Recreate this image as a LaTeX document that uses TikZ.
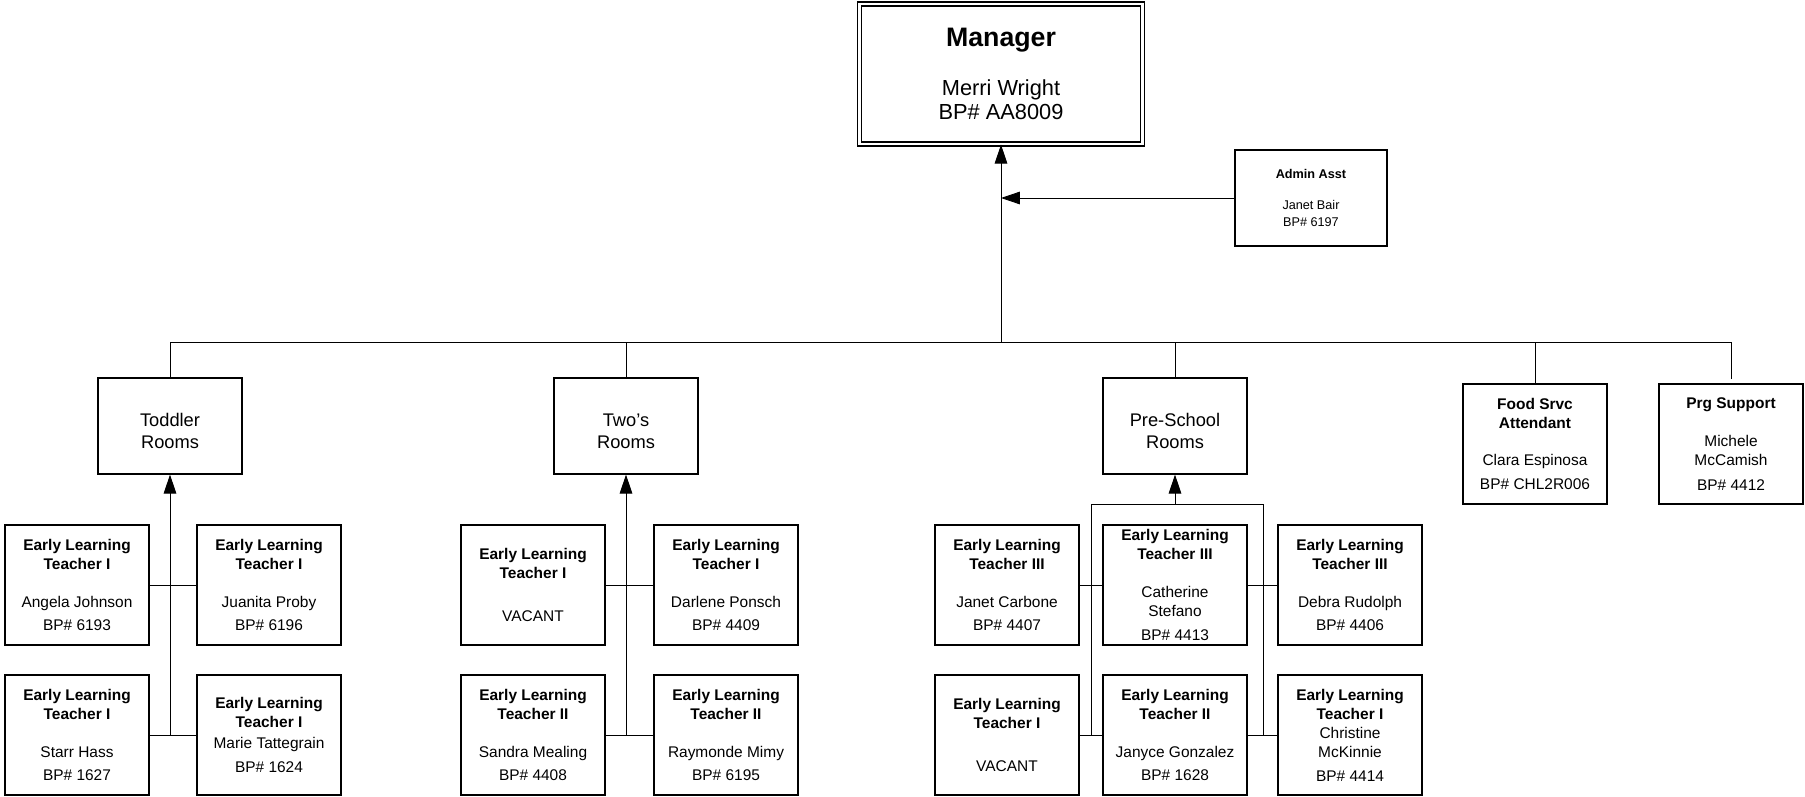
\documentclass[tikz,border=0pt]{standalone}
\usepackage{fontspec}
\setmainfont{Liberation Sans}
\usetikzlibrary{arrows.meta}
\tikzset{
  post/.style={draw,line width=.9pt,align=center,inner sep=0pt,
    minimum width=3.6cm,minimum height=3cm,font=\fontsize{11}{13.5}\selectfont},
  rooms/.style={post,minimum height=2.4cm,font=\fontsize{13}{15.5}\selectfont},
  link/.style={line width=.6pt},
  up/.style={link,-{Triangle[length=13.5pt,width=9pt]}}
}
\newcommand{\elt}[3]{\textbf{Early Learning}\\\textbf{Teacher #1}\\[#2]#3}
\begin{document}
\begin{tikzpicture}[x=.25mm,y=-.25mm]
\useasboundingbox (0,0) rectangle (1805,797);
% manager and admin
\node[post,double,double distance=2pt,minimum width=7.09cm,minimum height=3.5cm,
  font=\fontsize{15.5}{17.5}\selectfont] (mgr) at (1001,74)
  {{\fontsize{19}{22}\selectfont\bfseries Manager}\\[17.5pt]Merri Wright\\BP\# AA8009};
\node[post,minimum width=3.8cm,minimum height=2.4cm,font=\fontsize{9}{11.5}\selectfont]
  (admin) at (1311,198) {\textbf{Admin Asst}\\[10.5pt]Janet Bair\\BP\# 6197};
\coordinate (bar) at (1001,342);
\draw[up] (bar) -- (mgr);
\draw[up] (admin) -- (admin -| mgr);
% second level
\node[rooms] (tod) at (170,426) {\rule{0pt}{16pt}Toddler\\Rooms};
\node[rooms] (two) at (626,426) {\rule{0pt}{16pt}Two’s\\Rooms};
\node[rooms] (pre) at (1175,426) {\rule{0pt}{16pt}Pre-School\\Rooms};
\node[post] (food) at (1535,444) {\textbf{Food Srvc}\\\textbf{Attendant}\\[12.5pt]Clara Espinosa\\[3.5pt]BP\# CHL2R006};
\node[post] (prg) at (1731,444) {\textbf{Prg Support}\\[14pt]Michele\\McCamish\\[4pt]BP\# 4412};
\draw[link] (tod.north) |- (bar);
\draw[link] (two.north) |- (bar);
\draw[link] (pre.north) |- (bar);
\draw[link] (food.north) |- (bar);
\draw[link,shorten <=3pt] (prg.north) |- (bar);
% toddler rooms
\node[post] (tod1) at (77,585) {\elt{I}{13.5pt}{Angela Johnson\\[3.2pt]BP\# 6193}};
\node[post] (tod2) at (269,585) {\elt{I}{13.5pt}{Juanita Proby\\[3.2pt]BP\# 6196}};
\node[post] (tod3) at (77,735) {\elt{I}{13.5pt}{Starr Hass\\[3.2pt]BP\# 1627}};
\node[post] (tod4) at (269,735) {\elt{I}{1.5pt}{Marie Tattegrain\\[3pt]BP\# 1624}};
\draw[up] (tod3.east -| tod) -- (tod);
\draw[link] (tod1) -- (tod2);
\draw[link] (tod3) -- (tod3 -| tod);
\draw[link] (tod4) -- (tod4 -| tod);
% two's rooms
\node[post] (two1) at (533,585) {\elt{I}{17pt}{VACANT}};
\node[post] (two2) at (726,585) {\elt{I}{13.5pt}{Darlene Ponsch\\[3.2pt]BP\# 4409}};
\node[post] (two3) at (533,735) {\elt{II}{13.5pt}{Sandra Mealing\\[3.2pt]BP\# 4408}};
\node[post] (two4) at (726,735) {\elt{II}{13.5pt}{Raymonde Mimy\\[3.2pt]BP\# 6195}};
\draw[up] (two3.east -| two) -- (two);
\draw[link] (two1) -- (two2);
\draw[link] (two3) -- (two3 -| two);
\draw[link] (two4) -- (two4 -| two);
% pre-school rooms
\node[post] (pre1) at (1007,585) {\elt{III}{13.5pt}{Janet Carbone\\[3.2pt]BP\# 4407}};
\node[post] (pre2) at (1175,585) {\elt{III}{14pt}{Catherine\\Stefano\\[3.5pt]BP\# 4413}};
\node[post] (pre3) at (1350,585) {\elt{III}{13.5pt}{Debra Rudolph\\[3.2pt]BP\# 4406}};
\node[post] (pre4) at (1007,735) {\elt{I}{17pt}{VACANT}};
\node[post] (pre5) at (1175,735) {\elt{II}{13.5pt}{Janyce Gonzalez\\[3.2pt]BP\# 1628}};
\node[post] (pre6) at (1350,735) {\elt{I}{0pt}{Christine\\McKinnie\\[3.5pt]BP\# 4414}};
\coordinate (prej) at (1175,504);
\coordinate (prel) at (1091,504);
\coordinate (prer) at (1263,504);
\draw[up] (prej) -- (pre);
\draw[link] (pre4.east -| prel) |- (prer) -- (pre6.west -| prer);
\draw[link] (pre1) -- (pre2);
\draw[link] (pre2) -- (pre3);
\draw[link] (pre4) -- (pre5);
\draw[link] (pre5) -- (pre6);
\end{tikzpicture}
\end{document}
